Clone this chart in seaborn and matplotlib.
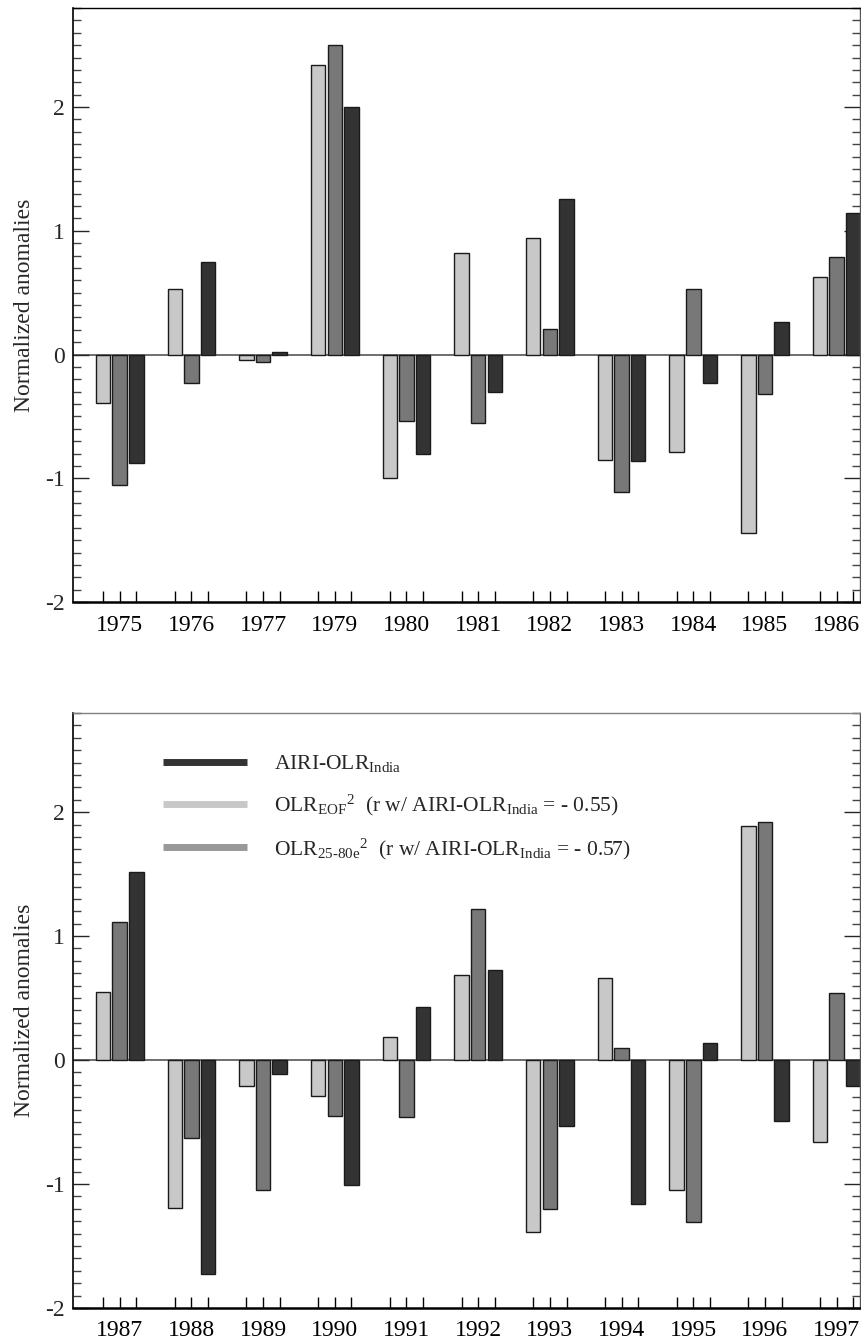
import numpy as np
import pandas as pd
import matplotlib
matplotlib.use("Agg")
import matplotlib.pyplot as plt
from matplotlib.lines import Line2D
from matplotlib.ticker import MultipleLocator, FixedLocator
import seaborn as sns

# values (normalized anomalies)
years_top = ['1975', '1976', '1977', '1979', '1980', '1981',
             '1982', '1983', '1984', '1985', '1986']
olr_eof_top = [-0.39, 0.53, -0.04, 2.34, -1.00, 0.82, 0.94, -0.85, -0.79, -1.44, 0.63]
olr_2580_top = [-1.05, -0.23, -0.06, 2.50, -0.54, -0.55, 0.21, -1.11, 0.53, -0.32, 0.79]
airi_top = [-0.88, 0.75, 0.02, 2.00, -0.80, -0.30, 1.26, -0.86, -0.23, 0.26, 1.14]

years_bot = ['1987', '1988', '1989', '1990', '1991', '1992',
             '1993', '1994', '1995', '1996', '1997']
olr_eof_bot = [0.55, -1.19, -0.21, -0.29, 0.19, 0.69, -1.39, 0.66, -1.05, 1.89, -0.66]
olr_2580_bot = [1.11, -0.63, -1.05, -0.45, -0.46, 1.22, -1.20, 0.10, -1.31, 1.92, 0.54]
airi_bot = [1.52, -1.73, -0.11, -1.01, 0.43, 0.73, -0.53, -1.16, 0.14, -0.49, -0.21]

series = ['OLR_EOF', 'OLR_25-80e', 'AIRI-OLR_India']
bar_colors = ['#c8c8c8', '#787878', '#333333']

legend_labels = [
    r'AIRI-OLR$_{\mathrm{India}}$',
    r'OLR$_{\mathrm{EOF}}$$^{2}$  (r w/ AIRI-OLR$_{\mathrm{India}}$ = - 0.55)',
    r'OLR$_{\mathrm{25\text{-}80e}}$$^{2}$  (r w/ AIRI-OLR$_{\mathrm{India}}$ = - 0.57)',
]
legend_colors = ['#333333', '#c8c8c8', '#999999']

sns.set_style("ticks")
plt.rcParams['font.family'] = ['Liberation Serif', 'DejaVu Serif']
plt.rcParams['mathtext.fontset'] = 'custom'
plt.rcParams['mathtext.rm'] = 'Liberation Serif'
plt.rcParams['mathtext.it'] = 'Liberation Serif:italic'
plt.rcParams['axes.unicode_minus'] = False


def make_df(years, eof, olr2580, airi):
    return pd.DataFrame({
        'year': years * 3,
        'series': [s for s in series for _ in years],
        'value': eof + olr2580 + airi,
    })


def draw_panel(ax, df, years, top_color):
    ax.axhline(0, color='#555555', lw=1.2, zorder=0.5)
    sns.barplot(data=df, x='year', y='value', hue='series', order=years,
                hue_order=series, palette=bar_colors, saturation=1,
                width=0.696, gap=0.13, errorbar=None, legend=False,
                edgecolor='#1a1a1a', linewidth=1.0, ax=ax)
    ax.set_xlim(-0.651, 10.325)
    ax.set_ylim(-2, 2.8)

    n = len(years)
    ax.xaxis.set_major_locator(FixedLocator(np.arange(n)))
    ax.set_xticklabels(years)
    ax.xaxis.set_minor_locator(FixedLocator(np.concatenate([np.arange(n) - 0.232, np.arange(n) + 0.232])))
    ax.yaxis.set_major_locator(MultipleLocator(1))
    ax.yaxis.set_minor_locator(MultipleLocator(0.1))
    ax.set_yticklabels([f'{int(round(v))}' for v in ax.get_yticks()])
    ax.set_ylim(-2, 2.8)

    ax.tick_params(axis='x', which='both', direction='in', length=8, width=1,
                   top=False, bottom=True, labelsize=17, pad=9, colors='black')
    ax.tick_params(axis='y', which='major', direction='in', length=11.5, width=1,
                   left=True, right=True, labelsize=17, pad=6)
    ax.tick_params(axis='y', which='minor', direction='in', length=6, width=1,
                   left=True, right=True, color='#444444')

    ax.set_xlabel('')
    ax.set_ylabel('Normalized anomalies', fontsize=17, labelpad=7)

    for side in ['left', 'bottom', 'right', 'top']:
        ax.spines[side].set_visible(True)
    ax.spines['left'].set_color('black')
    ax.spines['left'].set_linewidth(1.2)
    ax.spines['bottom'].set_color('black')
    ax.spines['bottom'].set_linewidth(1.8)
    ax.spines['right'].set_color('#555555')
    ax.spines['right'].set_linewidth(1.0)
    ax.spines['top'].set_color(top_color)
    ax.spines['top'].set_linewidth(1.0)


fig = plt.figure(figsize=(8.61, 13.43), dpi=100)
ax1 = fig.add_axes([0.0848, 0.5517, 0.914, 0.4423])
ax2 = fig.add_axes([0.0848, 0.0261, 0.914, 0.4430])

draw_panel(ax1, make_df(years_top, olr_eof_top, olr_2580_top, airi_top), years_top, 'black')
draw_panel(ax2, make_df(years_bot, olr_eof_bot, olr_2580_bot, airi_bot), years_bot, '#808080')

handles = [Line2D([], [], color=c, lw=5, solid_capstyle='butt') for c in legend_colors]
ax2.legend(handles, legend_labels, loc='upper left', bbox_to_anchor=(0.114, 0.932),
           frameon=False, handlelength=3.9, handletextpad=1.25, labelspacing=0.85,
           fontsize=15.5, borderpad=0, borderaxespad=0)

fig.savefig('out.png', dpi=100, facecolor='white')
